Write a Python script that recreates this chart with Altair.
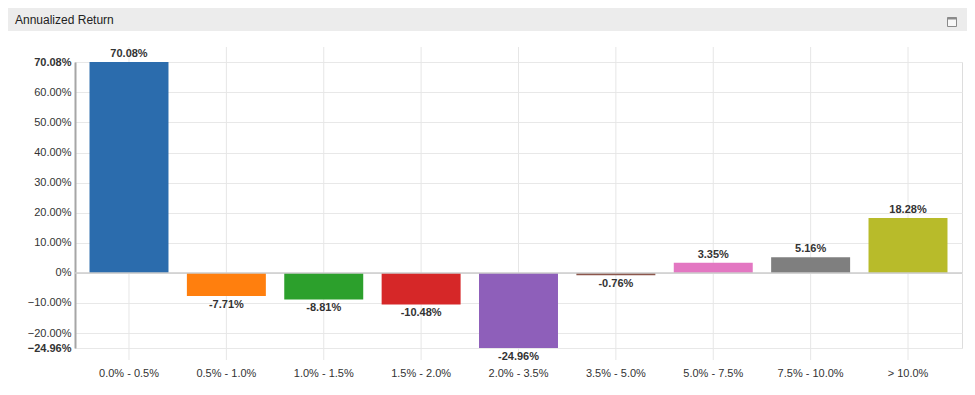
import altair as alt
import pandas as pd

categories = ["0.0% - 0.5%", "0.5% - 1.0%", "1.0% - 1.5%", "1.5% - 2.0%", "2.0% - 3.5%",
              "3.5% - 5.0%", "5.0% - 7.5%", "7.5% - 10.0%", "> 10.0%"]
values = [70.08, -7.71, -8.81, -10.48, -24.96, -0.76, 3.35, 5.16, 18.28]
colors = ["#2b6cad", "#ff7f0e", "#2ca02c", "#d62728", "#8e5fba",
          "#8c564b", "#e377c2", "#7f7f7f", "#b8bb2a"]
y_ticks = [-24.96, -20, -10, 0, 10, 20, 30, 40, 50, 60, 70.08]
title_text = "Annualized Return"

df = pd.DataFrame({"cat": categories, "val": values})
df["label"] = [f"{v:.2f}%" for v in values]

W, H = 887, 286
FONT = "Liberation Sans"

xscale = alt.Scale(domain=categories, paddingInner=0.189, paddingOuter=0.149)
yscale = alt.Scale(domain=[-24.96, 70.08], nice=False, zero=False)

base = alt.Chart(df)

vgrid = base.mark_rule(color="#e6e6e6", strokeWidth=1).encode(
    x=alt.X("cat:N", scale=xscale, sort=categories),
    y=alt.value(-15), y2=alt.value(H + 12),
)

bars = base.mark_bar().encode(
    x=alt.X("cat:N", scale=xscale, sort=categories,
            axis=alt.Axis(title=None, domain=False, ticks=False, grid=False,
                          labelFont=FONT, labelFontSize=11, labelColor="#333333",
                          labelPadding=19, labelAngle=0, labelAlign="center",
                          labelBaseline="top", labelOverlap=False)),
    y=alt.Y("val:Q", scale=yscale,
            axis=alt.Axis(title=None, values=y_ticks, tickCount=30, grid=True, gridColor="#e8e8e8",
                          domain=True, domainColor="#a6a6a6", domainWidth=2,
                          ticks=False, labelPadding=4, labelOverlap=False,
                          labelFont=FONT, labelFontSize=11, labelColor="#333333",
                          labelExpr="datum.value == 0 ? '0%' : format(datum.value, '.2f') + '%'",
                          labelFontWeight={"condition": {"test": "abs(datum.value - 70.08) < 0.001 || abs(datum.value + 24.96) < 0.001", "value": "bold"}, "value": "normal"})),
    y2=alt.datum(0),
    color=alt.Color("cat:N", scale=alt.Scale(domain=categories, range=colors), legend=None),
)

zero = alt.Chart(alt.Data(values=[{"z": 0}])).mark_rule(color="#cccccc", strokeWidth=1.5).encode(
    y=alt.Y("z:Q", scale=yscale), x=alt.value(0), x2=alt.value(W)
)

pos_labels = base.transform_filter("datum.val >= 0").mark_text(
    baseline="bottom", dy=-3, font=FONT, fontSize=11, fontWeight="bold", color="#333333"
).encode(x=alt.X("cat:N", scale=xscale, sort=categories), y=alt.Y("val:Q", scale=yscale), text="label:N")

neg_labels = base.transform_filter("datum.val < 0").mark_text(
    baseline="top", dy=3, font=FONT, fontSize=11, fontWeight="bold", color="#333333"
).encode(x=alt.X("cat:N", scale=xscale, sort=categories), y=alt.Y("val:Q", scale=yscale), text="label:N")

one = alt.Data(values=[{"t": title_text}])
header = alt.Chart(one).mark_rect(color="#ececec").encode(
    x=alt.value(-67), x2=alt.value(895), y=alt.value(-54), y2=alt.value(-31)
)
title = alt.Chart(one).mark_text(
    align="left", baseline="middle", font=FONT, fontSize=12, color="#222222"
).encode(x=alt.value(-60), y=alt.value(-42.5), text="t:N")
icon = alt.Chart(one).mark_rect(fill="#f7f7f7", stroke="#8a8a8a", strokeWidth=1).encode(
    x=alt.value(872.5), x2=alt.value(881.5), y=alt.value(-44.5), y2=alt.value(-35.5)
)
icon_bar = alt.Chart(one).mark_rect(fill="#8a8a8a").encode(
    x=alt.value(872.5), x2=alt.value(881.5), y=alt.value(-44.5), y2=alt.value(-42.5)
)

chart = alt.layer(header, title, icon, icon_bar, vgrid, bars, zero, pos_labels, neg_labels).properties(
    width=W, height=H,
    autosize=alt.AutoSizeParams(type="none"),
    padding={"left": 67, "top": 54, "right": 5, "bottom": 35},
).configure_view(stroke=None).configure(background="white")

chart.save("out.html", embed_options={"renderer": "svg", "actions": False})
